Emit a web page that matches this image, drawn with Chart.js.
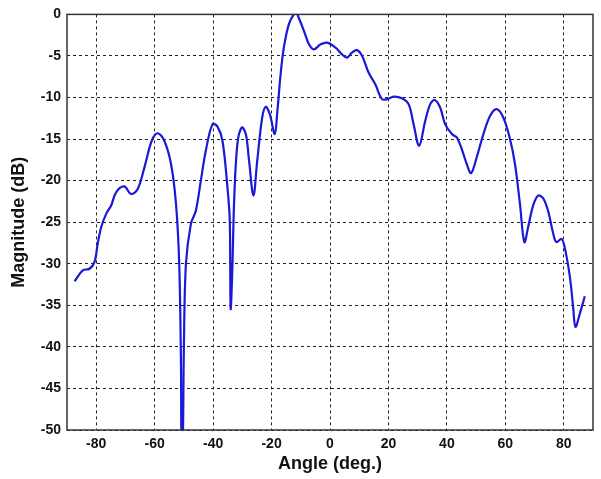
<!DOCTYPE html>
<html>
<head>
<meta charset="utf-8">
<script src="https://cdn.jsdelivr.net/npm/chart.js@4/dist/chart.umd.min.js"></script>
<style>
  html, body { margin: 0; padding: 0; background: #fff; }
  #wrap { width: 601px; height: 479px; }
</style>
</head>
<body>
<div id="wrap"><canvas id="beamChart" width="601" height="479"></canvas></div>
<script>
// angle (deg) and magnitude (dB)
const angles = [
  -87.4, -84.6, -82.3, -80.6, -79.5, -78.3, -76.6, -74.9, -73.2, -70.4,
  -68.1, -65.8, -63.5, -61.0, -59.0, -56.7, -54.4, -52.7, -51.6, -51.0,
  -50.8, -50.4, -50.0, -49.3, -47.6, -45.9, -44.2, -42.5, -40.2, -38.5,
  -36.8, -35.1, -34.3, -34.0, -33.4, -32.8, -31.7, -30.2, -28.8, -27.7,
  -26.2, -24.9, -23.2, -22.0, -20.6, -18.9, -18.0, -16.9, -15.8, -14.1,
  -12.4, -11.5, -10.7, -8.9, -7.2, -5.5, -3.2, -1.0, 1.9, 4.1,
  5.8, 7.5, 9.2, 11.0, 13.2, 15.5, 17.8, 19.5, 21.8, 24.6,
  26.9, 28.6, 30.5, 32.6, 34.3, 35.8, 37.7, 39.4, 41.7, 43.4,
  45.1, 46.8, 48.3, 50.2, 52.5, 54.8, 57.0, 59.3, 61.6, 63.3,
  65.0, 66.5, 67.8, 69.5, 71.2, 72.9, 74.6, 76.4, 77.5, 79.2,
  80.3, 82.1, 83.2, 84.0, 85.5, 87.2
];
const magnitude = [
  -32.1, -30.8, -30.6, -29.8, -27.6, -25.6, -24.0, -23.0, -21.4, -20.7,
  -21.6, -21.0, -18.4, -15.2, -14.3, -15.2, -18.0, -22.8, -30.0, -42.0,
  -52.0, -52.0, -40.0, -30.0, -25.2, -23.6, -20.0, -16.4, -13.2, -13.5,
  -15.2, -20.8, -24.8, -35.4, -30.4, -22.4, -15.6, -13.6, -14.4, -17.6,
  -21.8, -17.6, -12.4, -11.1, -12.0, -14.4, -11.6, -7.2, -4.0, -1.2,
  0.0, 0.2, -0.4, -2.0, -3.6, -4.2, -3.6, -3.4, -4.0, -4.8,
  -5.2, -4.6, -4.3, -5.0, -7.0, -8.4, -10.2, -10.2, -9.9, -10.1,
  -10.8, -13.2, -15.8, -12.8, -10.8, -10.3, -11.2, -13.2, -14.4, -14.8,
  -16.2, -18.0, -19.1, -17.2, -14.4, -12.2, -11.4, -12.4, -15.0, -18.0,
  -22.8, -27.4, -25.6, -23.0, -21.8, -22.1, -23.6, -26.4, -27.4, -27.0,
  -28.0, -31.6, -35.2, -37.6, -36.0, -33.9
];
const xTicks = [-80, -60, -40, -20, 0, 20, 40, 60, 80];
const yTicks = [0, -5, -10, -15, -20, -25, -30, -35, -40, -45, -50];

const points = angles.map(function(a, i){ return { x: a, y: magnitude[i] }; });

// box round the plot area, like the matlab axes
const frame = {
  id: 'frame',
  afterDraw: function(chart){
    const a = chart.chartArea, ctx = chart.ctx;
    ctx.save();
    ctx.strokeStyle = '#333';
    ctx.lineWidth = 1.5;
    ctx.strokeRect(a.left, a.top, a.right - a.left, a.bottom - a.top);
    ctx.restore();
  }
};

const tickFont = { family: 'Liberation Sans, Arial, sans-serif', size: 14, weight: 'bold' };
const titleFont = { family: 'Liberation Sans, Arial, sans-serif', size: 18, weight: 'bold' };

new Chart(document.getElementById('beamChart'), {
  type: 'line',
  data: {
    datasets: [{
      data: points,
      borderColor: 'rgb(25,25,215)',
      borderWidth: 2.2,
      pointRadius: 0,
      tension: 0.35,
      fill: false
    }]
  },
  options: {
    responsive: false,
    animation: false,
    layout: { padding: { top: 13, right: 8, left: 0, bottom: 0 } },
    plugins: { legend: { display: false }, tooltip: { enabled: false } },
    scales: {
      x: {
        type: 'linear',
        min: -90, max: 90,
        afterBuildTicks: function(s){ s.ticks = xTicks.map(function(v){ return { value: v }; }); },
        afterFit: function(s){ s.height = 49; },
        grid: { color: '#222', borderDash: [3, 3], drawTicks: false, lineWidth: 1 },
        border: { display: false, dash: [3, 3] },
        ticks: { color: '#111', font: tickFont, padding: 6, maxRotation: 0 },
        title: { display: true, text: 'Angle (deg.)', color: '#111', font: titleFont, padding: { top: 0 } }
      },
      y: {
        type: 'linear',
        min: -50, max: 0,
        afterBuildTicks: function(s){ s.ticks = yTicks.map(function(v){ return { value: v }; }); },
        afterFit: function(s){ s.width = 67; },
        grid: { color: '#222', borderDash: [3, 3], drawTicks: false, lineWidth: 1 },
        border: { display: false, dash: [3, 3] },
        ticks: { color: '#111', font: tickFont, padding: 6 },
        title: { display: true, text: 'Magnitude (dB)', color: '#111', font: titleFont, padding: { top: 8, bottom: 0 } }
      }
    }
  },
  plugins: [frame]
});
</script>
</body>
</html>
